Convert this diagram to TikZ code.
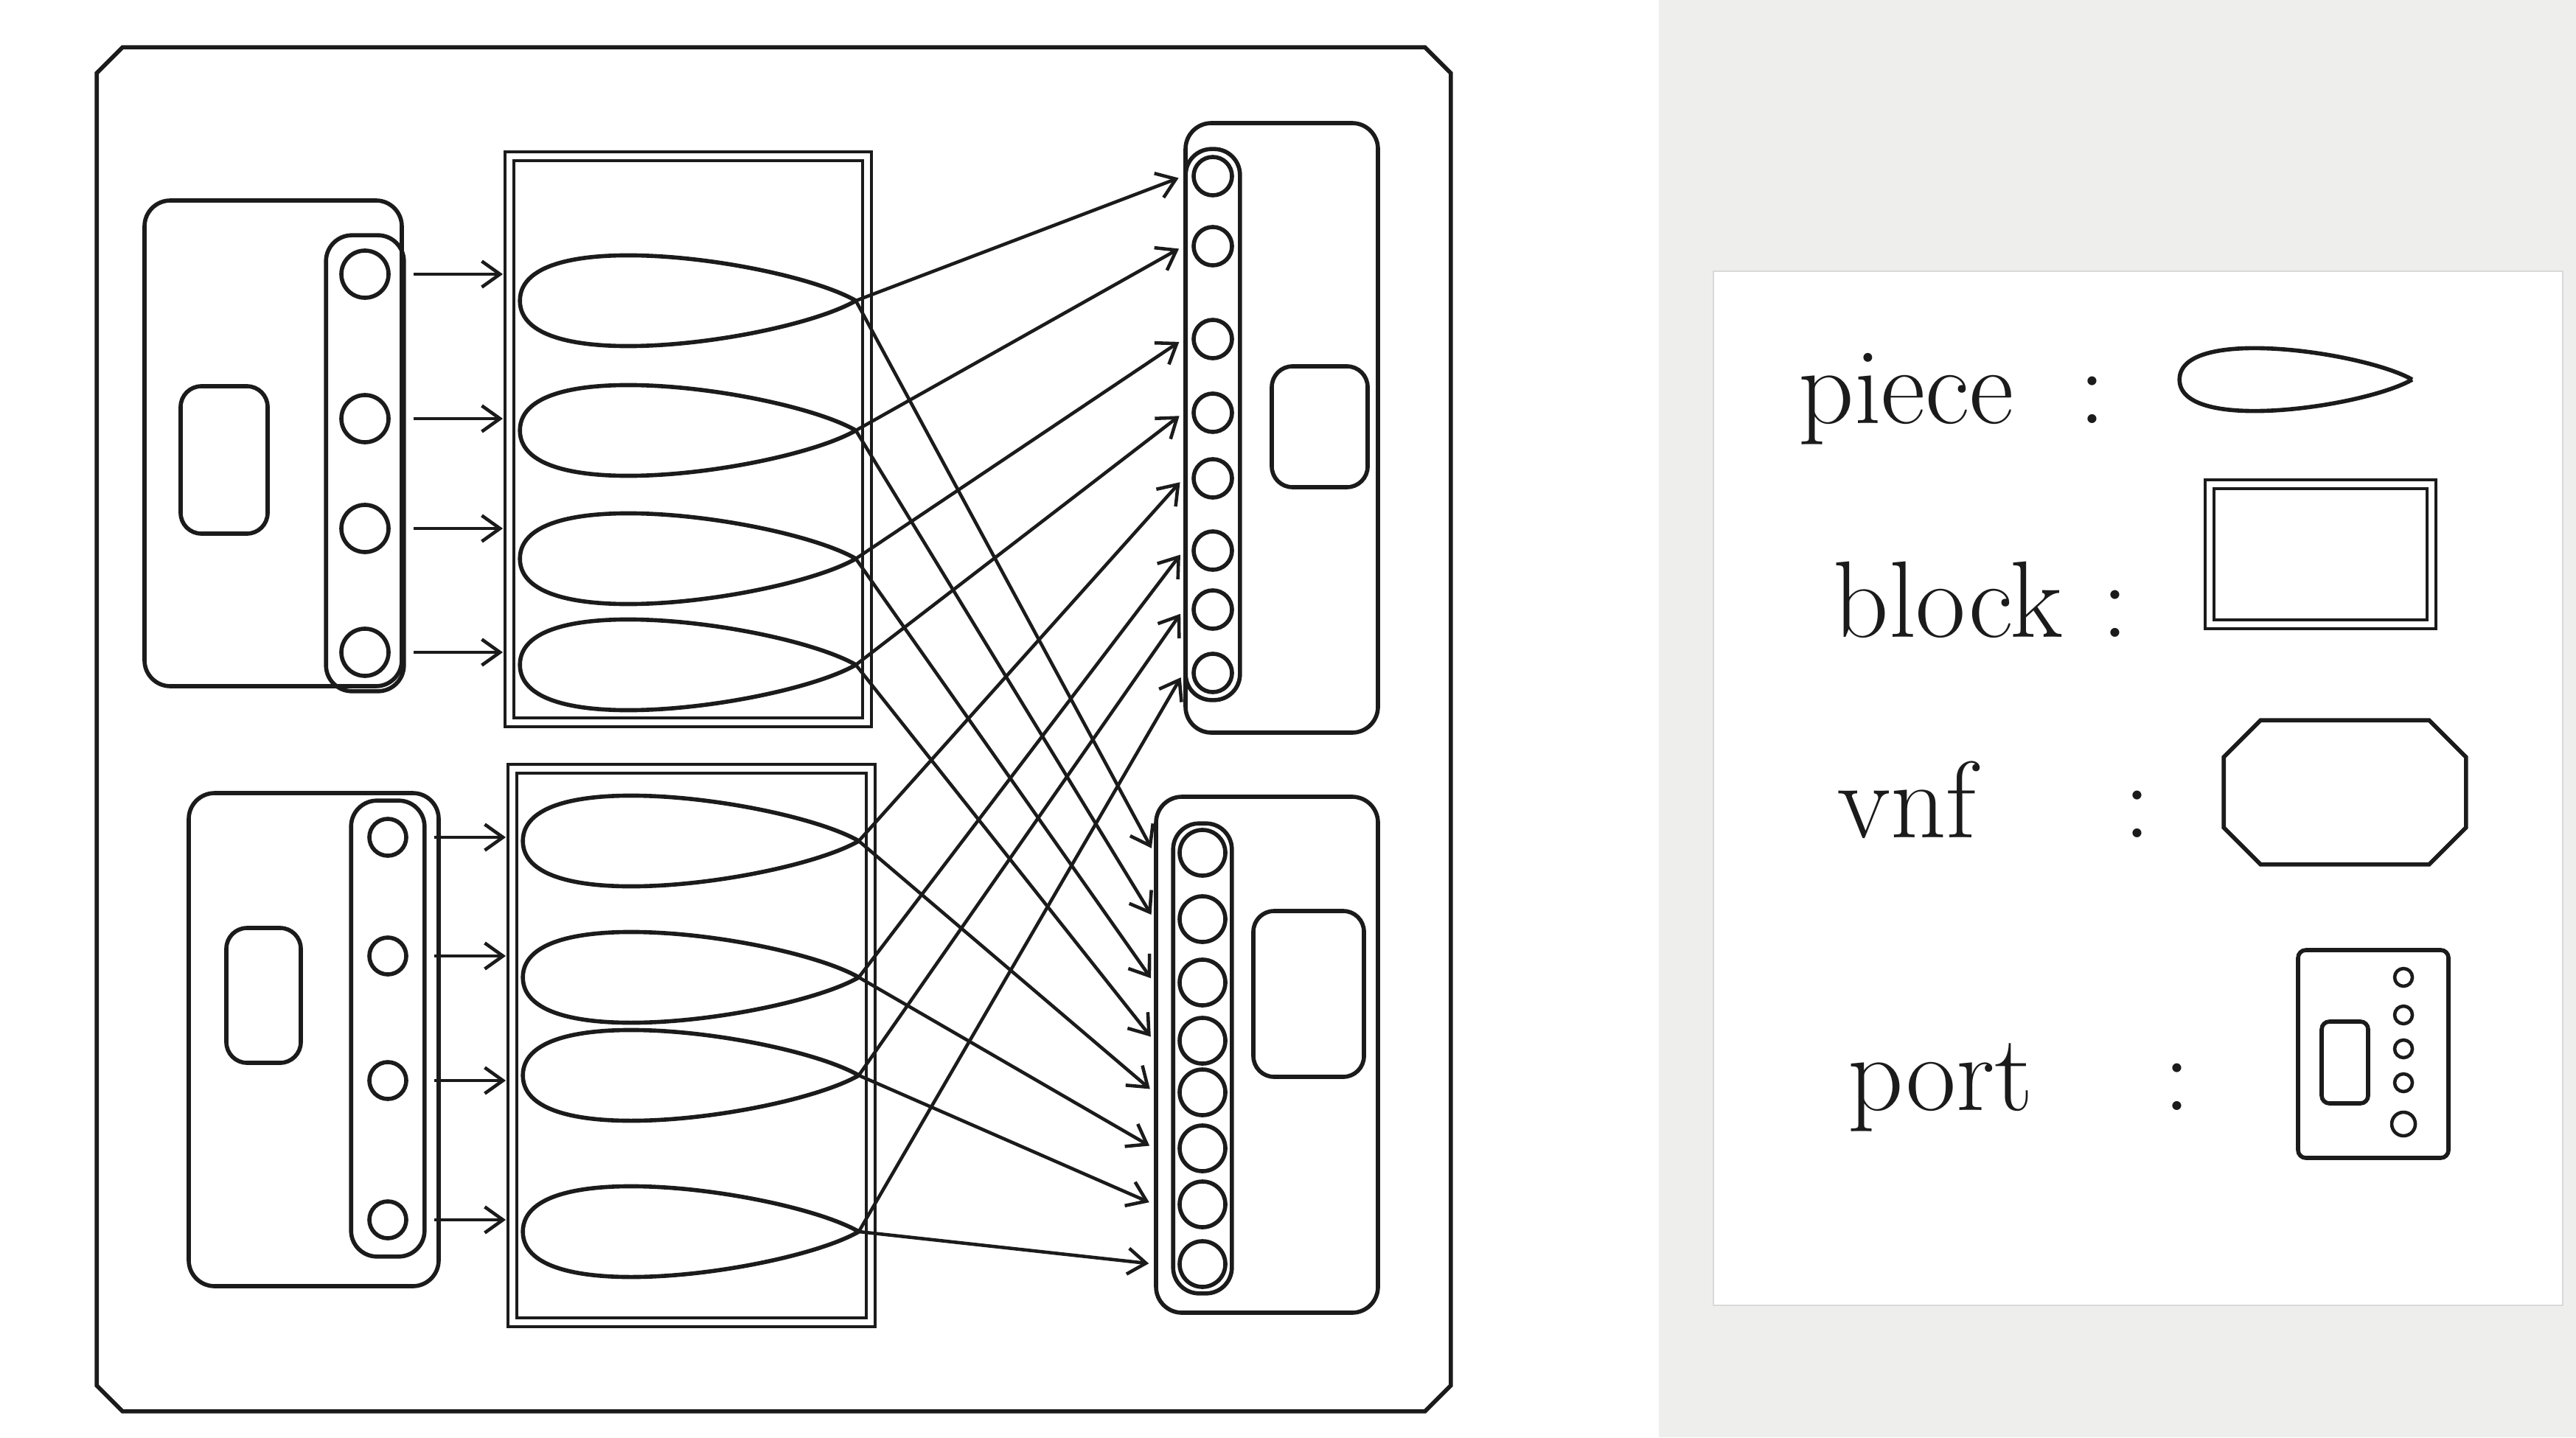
\documentclass[tikz,border=0pt]{standalone}
\usepackage{fontspec}
\usepackage{tikz}
\usetikzlibrary{arrows.meta,positioning,calc,fit}
\definecolor{ink}{HTML}{1B1B1B}
\definecolor{desk}{HTML}{EEEEEC}
% cut-corner outline round a named node
\newcommand{\vnfedge}[2]{\draw ([xshift=#2]#1.north west) -- ([xshift=-#2]#1.north east)
  -- ([yshift=-#2]#1.north east) -- ([yshift=#2]#1.south east) -- ([xshift=-#2]#1.south east)
  -- ([xshift=#2]#1.south west) -- ([yshift=#2]#1.south west) -- ([yshift=-#2]#1.north west) -- cycle;}

\begin{document}
\begin{tikzpicture}[color=ink,line width=1.6pt,
  every node/.style={font=\fontsize{42}{50}\selectfont},
  vnfbox/.style={inner sep=0pt},
  portbox/.style={draw,rounded corners=10pt,inner sep=0pt},
  dbox/.style={draw,rounded corners=8pt,inner sep=0pt},
  hole/.style={draw,circle,inner sep=0pt,minimum size=#1},
  strip/.style={draw,rounded corners=10pt,inner sep=#1},
  blockbox/.style={draw,double,double distance=2.4pt,line width=1.1pt,inner sep=0pt},
  piece/.style={inner sep=0pt,minimum width=#1,minimum height=1.2cm,
    append after command={(\tikzlastnode.west) edge[out=90,in=150,looseness=.6] (\tikzlastnode.east)
      (\tikzlastnode.west) edge[out=-90,in=210,looseness=.6] (\tikzlastnode.east)}},
  arr/.style={-{Straight Barb[length=7pt,width=10pt]},line width=1.3pt,shorten >=2pt}]
 \useasboundingbox (0,0) rectangle (34.94,19.5);
 \fill[desk] (22.5,0) rectangle (34.94,19.5);

 % the vnf
 \node[vnfbox,minimum width=18.31cm,minimum height=18.45cm] (vnf) at (10.495,9.605) {};
 \vnfedge{vnf}{.35cm}

 % ports on the left
 \node[portbox,minimum width=3.49cm,minimum height=6.59cm] (portTL) at (3.705,13.485) {};
 \node[dbox,minimum width=1.18cm,minimum height=2cm] (dTL) at (3.04,13.26) {};
 \foreach \y [count=\i] in {15.78,13.82,12.33,10.65}
   {\node[hole=.64cm] (tl\i) at (4.95,\y) {};}
 \node[strip=.18cm,fit=(tl1)(tl4)] (stripTL) {};

 \node[portbox,minimum width=3.39cm,minimum height=6.69cm] (portBL) at (4.255,5.395) {};
 \node[dbox,minimum width=1.01cm,minimum height=1.83cm] (dBL) at (3.575,5.995) {};
 \foreach \y [count=\i] in {8.14,6.53,4.84,2.95}
   {\node[hole=.5cm] (bl\i) at (5.26,\y) {};}
 \node[strip=.22cm,fit=(bl1)(bl4)] (stripBL) {};

 % ports on the right
 \node[portbox,minimum width=2.61cm,minimum height=8.27cm] (portTR) at (17.385,13.695) {};
 \node[dbox,minimum width=1.3cm,minimum height=1.64cm] (dTR) at (17.9,13.71) {};
 \foreach \y [count=\i] in {17.11,16.16,14.90,13.90,13.01,12.03,11.23,10.37}
   {\node[hole=.52cm] (tr\i) at (16.45,\y) {};}
 \node[strip=.08cm,fit=(tr1)(tr8)] (stripTR) {};

 \node[portbox,minimum width=3.01cm,minimum height=7cm] (portBR) at (17.185,5.19) {};
 \node[dbox,minimum width=1.5cm,minimum height=2.25cm] (dBR) at (17.75,6.015) {};
 \foreach \y [count=\i] in {7.93,7.03,6.17,5.38,4.68,3.92,3.16,2.35}
   {\node[hole=.62cm] (br\i) at (16.31,\y) {};}
 \node[strip=.06cm,fit=(br1)(br8)] (stripBR) {};

 % blocks and pieces
 \node[blockbox,minimum width=4.85cm,minimum height=7.68cm] (blkA) at (9.335,13.54) {};
 \node[blockbox,minimum width=4.86cm,minimum height=7.51cm] (blkB) at (9.38,5.315) {};
 \foreach \y [count=\i] in {15.42,13.66,11.92,10.48}
   {\node[piece=4.5cm] (pa\i) at (9.33,\y) {};}
 \foreach \y [count=\i] in {8.09,6.24,4.91,2.79}
   {\node[piece=4.5cm] (pb\i) at (9.37,\y) {};}

 \foreach \i in {1,...,4}
   {\draw[arr,shorten <=3pt] (tl\i -| stripTL.east) -- (tl\i -| blkA.west);
    \draw[arr,shorten <=3pt] (bl\i -| stripBL.east) -- (bl\i -| blkB.west);}
 \foreach \i/\j in {1/5,2/6,3/7,4/8}
   {\draw[arr] (pa\i.east) -- (tr\i -| portTR.west);
    \draw[arr] (pa\i.east) -- (br\i -| portBR.west);
    \draw[arr] (pb\i.east) -- (tr\j -| portTR.west);
    \draw[arr] (pb\i.east) -- (br\j -| portBR.west);}

 % legend
 \node[draw=black!15,line width=.6pt,fill=white,minimum width=11.52cm,minimum height=14.03cm,inner sep=0pt] (legend) at (29,8.805) {};
 \node[anchor=base west] (lpiece) at (24.25,13.75) {piece};
 \node[anchor=base west] (cpiece) at (28.05,13.75) {:};
 \node[anchor=base west] (lblock) at (24.72,10.86) {block};
 \node[anchor=base west] (cblock) at (28.36,10.86) {:};
 \node[anchor=base west] (lvnf) at (24.78,8.14) {vnf};
 \node[anchor=base west] (cvnf) at (28.66,8.14) {:};
 \node[anchor=base west] (lport) at (24.92,4.44) {port};
 \node[anchor=base west] (cport) at (29.2,4.44) {:};

 \node[piece=3.1cm] (kpiece) at (31.14,14.35) {};
 \node[blockbox,minimum width=3.01cm,minimum height=1.9cm] (kblock) at (31.475,11.98) {};
 \node[vnfbox,minimum width=3.23cm,minimum height=1.9cm] (kvnf) at (31.805,8.75) {};
 \vnfedge{kvnf}{.5cm}
 \node[portbox,rounded corners=3pt,minimum width=2.04cm,minimum height=2.82cm] (kport) at (32.19,5.2) {};
 \node[dbox,rounded corners=3pt,minimum width=.63cm,minimum height=1.11cm] (kd) at (31.805,5.085) {};
 \foreach \y/\s [count=\i] in {6.24/.24,5.73/.24,5.27/.24,4.81/.24,4.25/.32}
   {\node[hole=\s cm,line width=1.3pt] (kh\i) at (32.6,\y) {};}
\end{tikzpicture}
\end{document}
